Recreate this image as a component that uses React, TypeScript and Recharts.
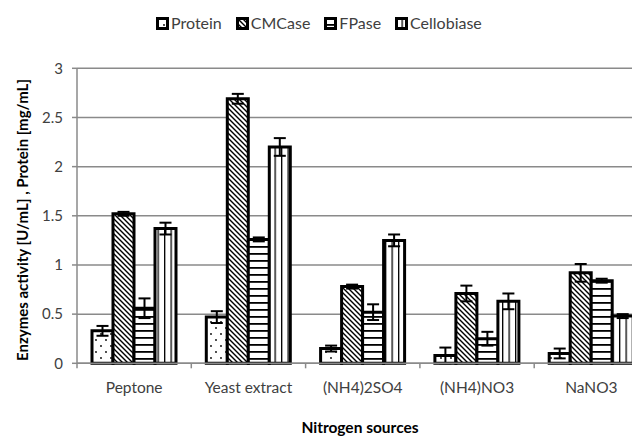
import React from "react";
import { BarChart, Bar, XAxis, YAxis, CartesianGrid, ErrorBar } from "recharts";

const categories = ["Peptone", "Yeast extract", "(NH4)2SO4", "(NH4)NO3", "NaNO3"];
const protein = [0.33, 0.47, 0.15, 0.08, 0.1];
const proteinErr = [0.05, 0.06, 0.03, 0.08, 0.05];
const cmcase = [1.52, 2.69, 0.78, 0.71, 0.92];
const cmcaseErr = [0.02, 0.05, 0.02, 0.08, 0.09];
const fpase = [0.56, 1.26, 0.52, 0.25, 0.84];
const fpaseErr = [0.1, 0.02, 0.08, 0.07, 0.02];
const cellobiase = [1.37, 2.2, 1.25, 0.63, 0.48];
const cellobiaseErr = [0.06, 0.09, 0.06, 0.08, 0.02];
const yTicks = [0, 0.5, 1, 1.5, 2, 2.5, 3];

const seriesNames = ["Protein", "CMCase", "FPase", "Cellobiase"];
const seriesKeys = ["protein", "cmcase", "fpase", "cellobiase"];
const patternIds = ["patDots", "patDiag", "patHoriz", "patVert"];

const data = categories.map((c, i) => ({
  name: c,
  protein: protein[i],
  proteinErr: proteinErr[i],
  cmcase: cmcase[i],
  cmcaseErr: cmcaseErr[i],
  fpase: fpase[i],
  fpaseErr: fpaseErr[i],
  cellobiase: cellobiase[i],
  cellobiaseErr: cellobiaseErr[i],
}));

const W = 645;
const H = 432;
const margin = { top: 60.3, right: 4.5, left: 19, bottom: 46.7 };
const yAxisW = 50;
const xAxisH = 30;
const plotLeft = margin.left + yAxisW;
const plotW = W - plotLeft - margin.right;
const halfBand = plotW / categories.length / 2;
const FONT = "Lato, 'Open Sans', sans-serif";

const XTick = (props: any) => {
  const { x, y, payload, index } = props;
  return (
    <g>
      <line x1={x - halfBand} x2={x - halfBand} y1={y} y2={y + 5} stroke="#8a8a8a" strokeWidth={1.5} />
      {index === categories.length - 1 && (
        <line x1={x + halfBand} x2={x + halfBand} y1={y} y2={y + 5} stroke="#8a8a8a" strokeWidth={1.5} />
      )}
      <text x={x} y={y + 30} textAnchor="middle" fill="#404040" fontSize={15.5} fontFamily={FONT}>
        {payload.value}
      </text>
    </g>
  );
};

const LegendBox = () => (
  <div
    style={{
      position: "absolute",
      top: 5,
      left: 148,
      display: "flex",
      fontFamily: FONT,
      fontSize: 16,
      lineHeight: "20px",
      color: "#404040",
      whiteSpace: "nowrap",
    }}
  >
    {seriesNames.map((n, i) => (
      <div key={n} style={{ display: "flex", alignItems: "center", marginRight: 14 }}>
        <svg width={13} height={13} style={{ marginRight: 2 }}>
          <rect x={1.5} y={1.5} width={10} height={10} fill={`url(#${patternIds[i]})`} stroke="#000" strokeWidth={3} />
        </svg>
        <span>{n}</span>
      </div>
    ))}
  </div>
);

export default function App() {
  return (
    <div style={{ width: 632, height: 432, overflow: "hidden", position: "relative" }}>
      <svg width={0} height={0} style={{ position: "absolute" }}>
        <defs>
          <pattern id="patDots" width={10} height={12} patternUnits="userSpaceOnUse">
            <rect width={10} height={12} fill="#fff" />
            <circle cx={3} cy={2} r={0.9} fill="#000" />
            <circle cx={8} cy={8} r={0.9} fill="#000" />
          </pattern>
          <pattern id="patDiag" width={5} height={5} patternUnits="userSpaceOnUse">
            <rect width={5} height={5} fill="#fff" />
            <path d="M0,0 L5,5 M-1,4 L1,6 M4,-1 L6,1" stroke="#000" strokeWidth={1.4} />
          </pattern>
          <pattern id="patHoriz" width={7} height={7} patternUnits="userSpaceOnUse">
            <rect width={7} height={7} fill="#fff" />
            <rect x={0} y={0} width={7} height={1.8} fill="#000" />
          </pattern>
          <pattern id="patVert" width={6.5} height={6} patternUnits="userSpaceOnUse">
            <rect width={6.5} height={6} fill="#fff" />
            <rect x={0} y={0} width={1.3} height={6} fill="#000" />
          </pattern>
        </defs>
      </svg>
      <LegendBox />
      <BarChart width={W} height={H} data={data} margin={margin} barCategoryGap={15} barGap={0}>
        <CartesianGrid vertical={false} stroke="#8a8a8a" strokeWidth={1.5} />
        <XAxis
          dataKey="name"
          height={xAxisH}
          tick={<XTick />}
          tickLine={false}
          tickSize={0}
          tickMargin={0}
          axisLine={{ stroke: "#8a8a8a", strokeWidth: 1.5 }}
          interval={0}
        />
        <YAxis
          width={yAxisW}
          domain={[0, 3]}
          ticks={yTicks}
          tickSize={5}
          tickMargin={9}
          tickLine={{ stroke: "#8a8a8a", strokeWidth: 1.5 }}
          axisLine={{ stroke: "#8a8a8a", strokeWidth: 1.5 }}
          tick={{ fill: "#404040", fontSize: 15, fontFamily: FONT }}
        />
        {seriesKeys.map((k, i) => (
          <Bar
            key={k}
            dataKey={k}
            name={seriesNames[i]}
            fill={`url(#${patternIds[i]})`}
            stroke="#000"
            strokeWidth={3}
            isAnimationActive={false}
          >
            <ErrorBar dataKey={`${k}Err`} stroke="#000" strokeWidth={2} width={6} direction="y" />
          </Bar>
        ))}
        <text x={352} y={425} textAnchor="middle" fontFamily={FONT} fontWeight="bold" fontSize={15.5} fill="#000">
          Nitrogen sources
        </text>
        <text
          x={14}
          y={212}
          transform="rotate(-90 14 212)"
          textAnchor="middle"
          dominantBaseline="central"
          fontFamily={FONT}
          fontWeight="bold"
          fontSize={15}
          fill="#000"
        >
          Enzymes activity [U/mL] , Protein [mg/mL]
        </text>
      </BarChart>
    </div>
  );
}
